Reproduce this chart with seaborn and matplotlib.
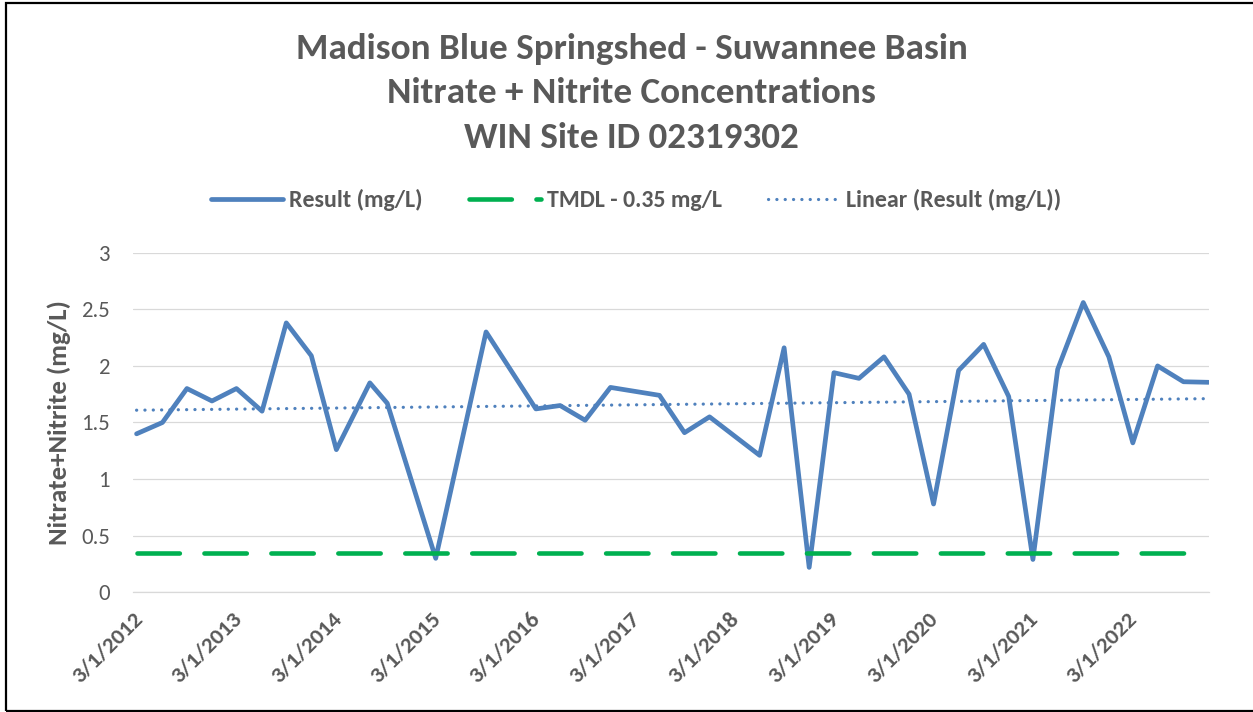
import numpy as np
import pandas as pd
import matplotlib
matplotlib.use("Agg")
import matplotlib.pyplot as plt
import matplotlib.dates as mdates
from matplotlib.patches import Rectangle
from matplotlib.transforms import ScaledTranslation
import seaborn as sns

# ---------------- data ----------------
sample_dates = ["2012-03-13", "2012-06-16", "2012-09-14", "2012-12-15", "2013-03-15",
                "2013-06-17", "2013-09-14", "2013-12-15", "2014-03-17", "2014-07-18",
                "2014-09-20", "2015-03-17", "2015-09-18", "2016-03-19", "2016-06-16",
                "2016-09-16", "2016-12-18", "2017-06-16", "2017-09-16", "2017-12-17",
                "2018-06-19", "2018-09-17", "2018-12-18", "2019-03-19", "2019-06-19",
                "2019-09-19", "2019-12-20", "2020-03-19", "2020-06-19", "2020-09-19",
                "2020-12-20", "2021-03-19", "2021-06-18", "2021-09-20", "2021-12-23",
                "2022-03-21", "2022-06-20", "2022-09-23", "2022-12-24"]
result_mg_l = [1.40, 1.50, 1.80, 1.69, 1.80,
               1.60, 2.38, 2.09, 1.26, 1.85,
               1.67, 0.30, 2.30, 1.62, 1.65,
               1.52, 1.81, 1.74, 1.41, 1.55,
               1.21, 2.16, 0.22, 1.94, 1.89,
               2.08, 1.75, 0.78, 1.96, 2.19,
               1.73, 0.29, 1.97, 2.56, 2.08,
               1.32, 2.00, 1.86, 1.855]
tmdl_value = 0.35
y_ticks = [0, 0.5, 1, 1.5, 2, 2.5, 3]
title_lines = ["Madison Blue Springshed - Suwannee Basin",
               "Nitrate + Nitrite Concentrations",
               "WIN Site ID 02319302"]
series_labels = ["Result (mg/L)", "TMDL - 0.35 mg/L", "Linear (Result (mg/L))"]
y_label = "Nitrate+Nitrite (mg/L)"
x_start = "2012-03-01"
x_end = "2022-12-27"

# ---------------- frames ----------------
df = pd.DataFrame({"date": pd.to_datetime(sample_dates), "value": result_mg_l})
df_tmdl = pd.DataFrame({"date": df["date"], "value": [tmdl_value] * len(df)})
xnum = mdates.date2num(df["date"])
slope, intercept = np.polyfit(xnum, df["value"], 1)
df_trend = pd.DataFrame({"date": df["date"], "value": slope * xnum + intercept})

# ---------------- style ----------------
sns.set_style("white")
plt.rcParams["font.family"] = ["Carlito", "Lato", "DejaVu Sans"]
plt.rcParams["lines.scale_dashes"] = False
GRAY_TXT = "#595959"
GRID = "#D9D9D9"
BLUE = "#4F81BD"
GREEN = "#00B050"

W, H = 1253, 712
fig = plt.figure(figsize=(W / 100, H / 100), dpi=100)
renderer = fig.canvas.get_renderer()


def fitted_size(text, target_px, weight="normal", base=14.0):
    t = fig.text(0, 0, text, fontsize=base, fontweight=weight)
    w = t.get_window_extent(renderer).width
    t.remove()
    return base * target_px / w


title_fs = fitted_size(title_lines[0], 673, "bold")
legend_fs = fitted_size(series_labels[2], 216, "bold")
ylabel_fs = fitted_size(y_label, 245, "bold")
ytick_fs = fitted_size("2.5", 29, "normal")
xtick_fs = fitted_size("3/1/2012", 90, "bold")

ax = fig.add_axes([133.3 / W, 1 - 592.3 / H, (1209.3 - 133.3) / W, (592.3 - 252.7) / H])

sns.lineplot(data=df, x="date", y="value", ax=ax, color=BLUE, linewidth=3.4,
             solid_joinstyle="round", solid_capstyle="round", label=series_labels[0], zorder=3)
sns.lineplot(data=df_tmdl, x="date", y="value", ax=ax, color=GREEN, linewidth=3.3,
             linestyle=(0, (30.5, 17.7)), dash_capstyle="round", label=series_labels[1], zorder=4)
sns.lineplot(data=df_trend, x="date", y="value", ax=ax, color=BLUE, linewidth=2.3,
             linestyle=(0, (0.1, 5.9)), dash_capstyle="round", label=series_labels[2], zorder=5)

ax.set_xlim(pd.Timestamp(x_start), pd.Timestamp(x_end))
ax.set_ylim(0, 3)
ax.set_yticks(y_ticks)
ax.set_yticklabels([f"{v:g}" for v in y_ticks])

tick_dates = pd.date_range(x_start, x_end, freq=pd.DateOffset(years=1))
ax.set_xticks(tick_dates)
ax.set_xticklabels([f"{d.month}/{d.day}/{d.year}" for d in tick_dates])

ax.grid(axis="y", color=GRID, linewidth=0.9)
ax.grid(axis="x", visible=False)
for s in ["left", "right", "top"]:
    ax.spines[s].set_visible(False)
ax.spines["bottom"].set_color(GRID)
ax.spines["bottom"].set_linewidth(0.9)
ax.spines["bottom"].set_zorder(0.5)

ax.tick_params(axis="y", length=0, pad=16.5, labelsize=ytick_fs, labelcolor=GRAY_TXT)
ax.tick_params(axis="x", length=5, width=0.9, color=GRID, direction="out",
               pad=12, labelsize=xtick_fs, labelcolor=GRAY_TXT)
offset = ScaledTranslation(0.06, 0, fig.dpi_scale_trans)
for lbl in ax.get_xticklabels():
    lbl.set_rotation(45)
    lbl.set_ha("right")
    lbl.set_va("center")
    lbl.set_rotation_mode("anchor")
    lbl.set_fontweight("bold")
    lbl.set_transform(lbl.get_transform() + offset)

ax.set_xlabel("")
ax.set_ylabel(y_label, fontsize=ylabel_fs, fontweight="bold", color=GRAY_TXT)
ax.yaxis.set_label_coords((71 - 133.3) / (1209.3 - 133.3), 0.5)

# legend
handles, labels = ax.get_legend_handles_labels()
pt = 0.72  # points per pixel at 100 dpi
leg = ax.legend(handles, labels, loc="center", ncol=3, frameon=False,
                bbox_to_anchor=(636 / W, 1 - 200 / H), bbox_transform=fig.transFigure,
                fontsize=legend_fs, handlelength=72 * pt / legend_fs,
                handletextpad=6 * pt / legend_fs, columnspacing=46 * pt / legend_fs)
for t in leg.get_texts():
    t.set_color(GRAY_TXT)
    t.set_fontweight("bold")

# titles
for txt, yb in zip(title_lines, [59, 103, 148]):
    fig.text(631.5 / W, 1 - yb / H, txt, ha="center", va="baseline",
             fontsize=title_fs, fontweight="bold", color=GRAY_TXT)

# chart border
fig.add_artist(Rectangle((6 / W, 1 - 711 / H), (1262 - 6) / W, (711 - 3) / H,
                         transform=fig.transFigure, fill=False, edgecolor="black",
                         linewidth=1.6))

fig.savefig("out.png", dpi=100, facecolor="white")
